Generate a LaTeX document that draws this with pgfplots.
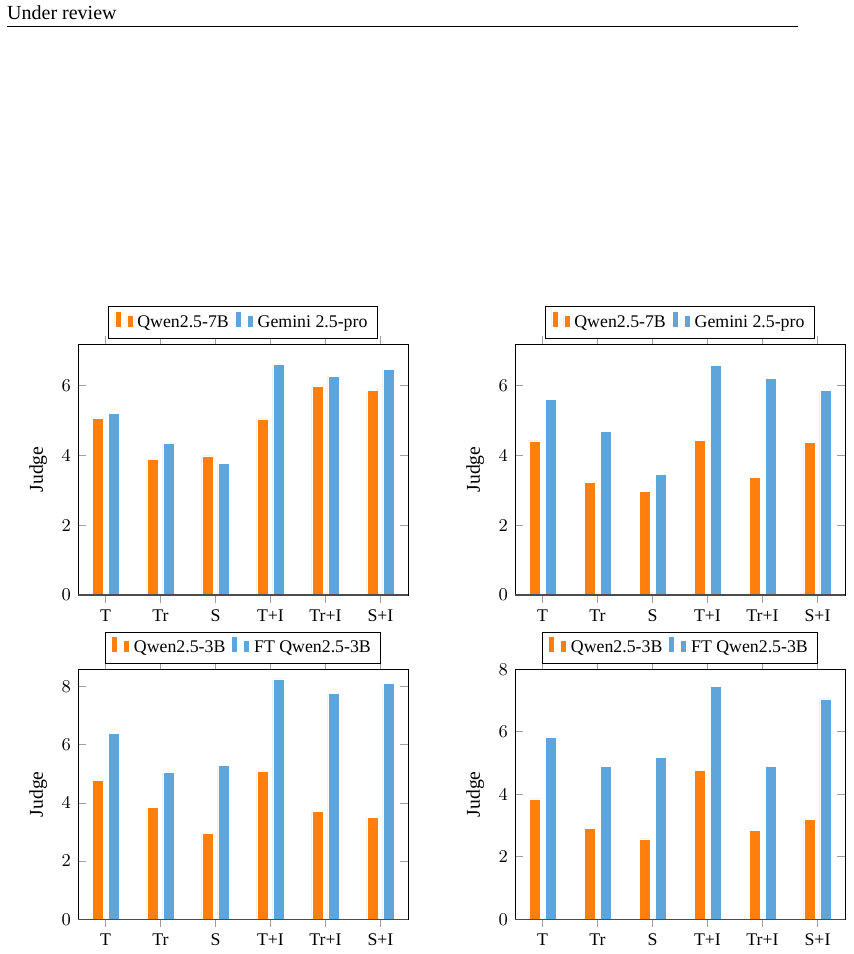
\documentclass[border=0pt]{standalone}
\usepackage{fontspec}
\setmainfont{Liberation Serif}
\usepackage{pgfplots}
\pgfplotsset{compat=1.18}

\definecolor{qorange}{RGB}{255,127,14}
\definecolor{qblue}{RGB}{93,165,218}

\pgfplotsset{
  judge/.style={
    scale only axis,
    width=165pt,
    height=125.5pt,
    ybar=2.5pt,
    bar width=5.5pt,
    xmin=-0.5, xmax=5.5,
    ymin=0,
    xtick={0,1,2,3,4,5},
    xticklabels={T,Tr,S,T+I,Tr+I,S+I},
    xtick align=outside,
    ytick align=inside,
    major tick length=3.8pt,
    tick style={gray!75, line width=0.5pt},
    ylabel={Judge},
    every axis y label/.style={at={(axis description cs:-0.121,0.5)}, rotate=90, anchor=center,
      font=\fontsize{9.8}{11.5}\selectfont},
    legend columns=-1,
    legend style={at={(0.5,1)}, anchor=south, yshift=2.6pt, draw=black,
      /tikz/every even column/.append style={column sep=1pt}},
    every axis plot/.append style={draw=white, line width=0.4pt},
  },
}

\begin{document}
\begin{tikzpicture}[font=\fontsize{8.9}{10.7}\selectfont]
\path[use as bounding box] (0,0) rectangle (426.5pt,-477pt);

% running head
\node[anchor=base west, inner sep=0pt, font=\fontsize{10}{12}\selectfont] at (3.4pt,-9.5pt) {Under review};
\draw[line width=0.5pt] (3.5pt,-13.4pt) -- (399pt,-13.4pt);

% top left
\begin{axis}[judge, at={(39pt,-297.5pt)}, anchor=south west, ymax=7.2, ytick={0,2,4,6}]
\addplot[fill=qorange] coordinates {(0,5.07) (1,3.88) (2,3.99) (3,5.05) (4,5.97) (5,5.86)};
\addplot[fill=qblue] coordinates {(0,5.22) (1,4.34) (2,3.77) (3,6.62) (4,6.27) (5,6.47)};
\legend{Qwen2.5-7B, Gemini 2.5-pro}
\draw[gray!60!black, line width=0.8pt] (rel axis cs:0,0) -- (rel axis cs:1,0);
\end{axis}

% top right
\begin{axis}[judge, at={(257.5pt,-297.5pt)}, anchor=south west, ymax=7.2, ytick={0,2,4,6}]
\addplot[fill=qorange] coordinates {(0,4.42) (1,3.22) (2,2.98) (3,4.44) (4,3.37) (5,4.37)};
\addplot[fill=qblue] coordinates {(0,5.61) (1,4.68) (2,3.45) (3,6.58) (4,6.21) (5,5.88)};
\legend{Qwen2.5-7B, Gemini 2.5-pro}
\draw[gray!60!black, line width=0.8pt] (rel axis cs:0,0) -- (rel axis cs:1,0);
\end{axis}

% bottom left
\begin{axis}[judge, height=125pt, at={(39pt,-459.65pt)}, anchor=south west, ymax=8.6, ytick={0,2,4,6,8}]
\addplot[fill=qorange] coordinates {(0,4.77) (1,3.86) (2,2.95) (3,5.08) (4,3.72) (5,3.51)};
\addplot[fill=qblue] coordinates {(0,6.38) (1,5.04) (2,5.28) (3,8.27) (4,7.76) (5,8.12)};
\legend{Qwen2.5-3B, FT Qwen2.5-3B}
\draw[gray!60!black, line width=0.8pt] (rel axis cs:0,0) -- (rel axis cs:1,0);
\end{axis}

% bottom right
\begin{axis}[judge, height=125pt, at={(257.5pt,-459.65pt)}, anchor=south west, ymax=8, ytick={0,2,4,6,8}]
\addplot[fill=qorange] coordinates {(0,3.85) (1,2.91) (2,2.57) (3,4.77) (4,2.83) (5,3.20)};
\addplot[fill=qblue] coordinates {(0,5.83) (1,4.89) (2,5.17) (3,7.46) (4,4.89) (5,7.05)};
\legend{Qwen2.5-3B, FT Qwen2.5-3B}
\draw[gray!60!black, line width=0.8pt] (rel axis cs:0,0) -- (rel axis cs:1,0);
\end{axis}
\end{tikzpicture}
\end{document}
